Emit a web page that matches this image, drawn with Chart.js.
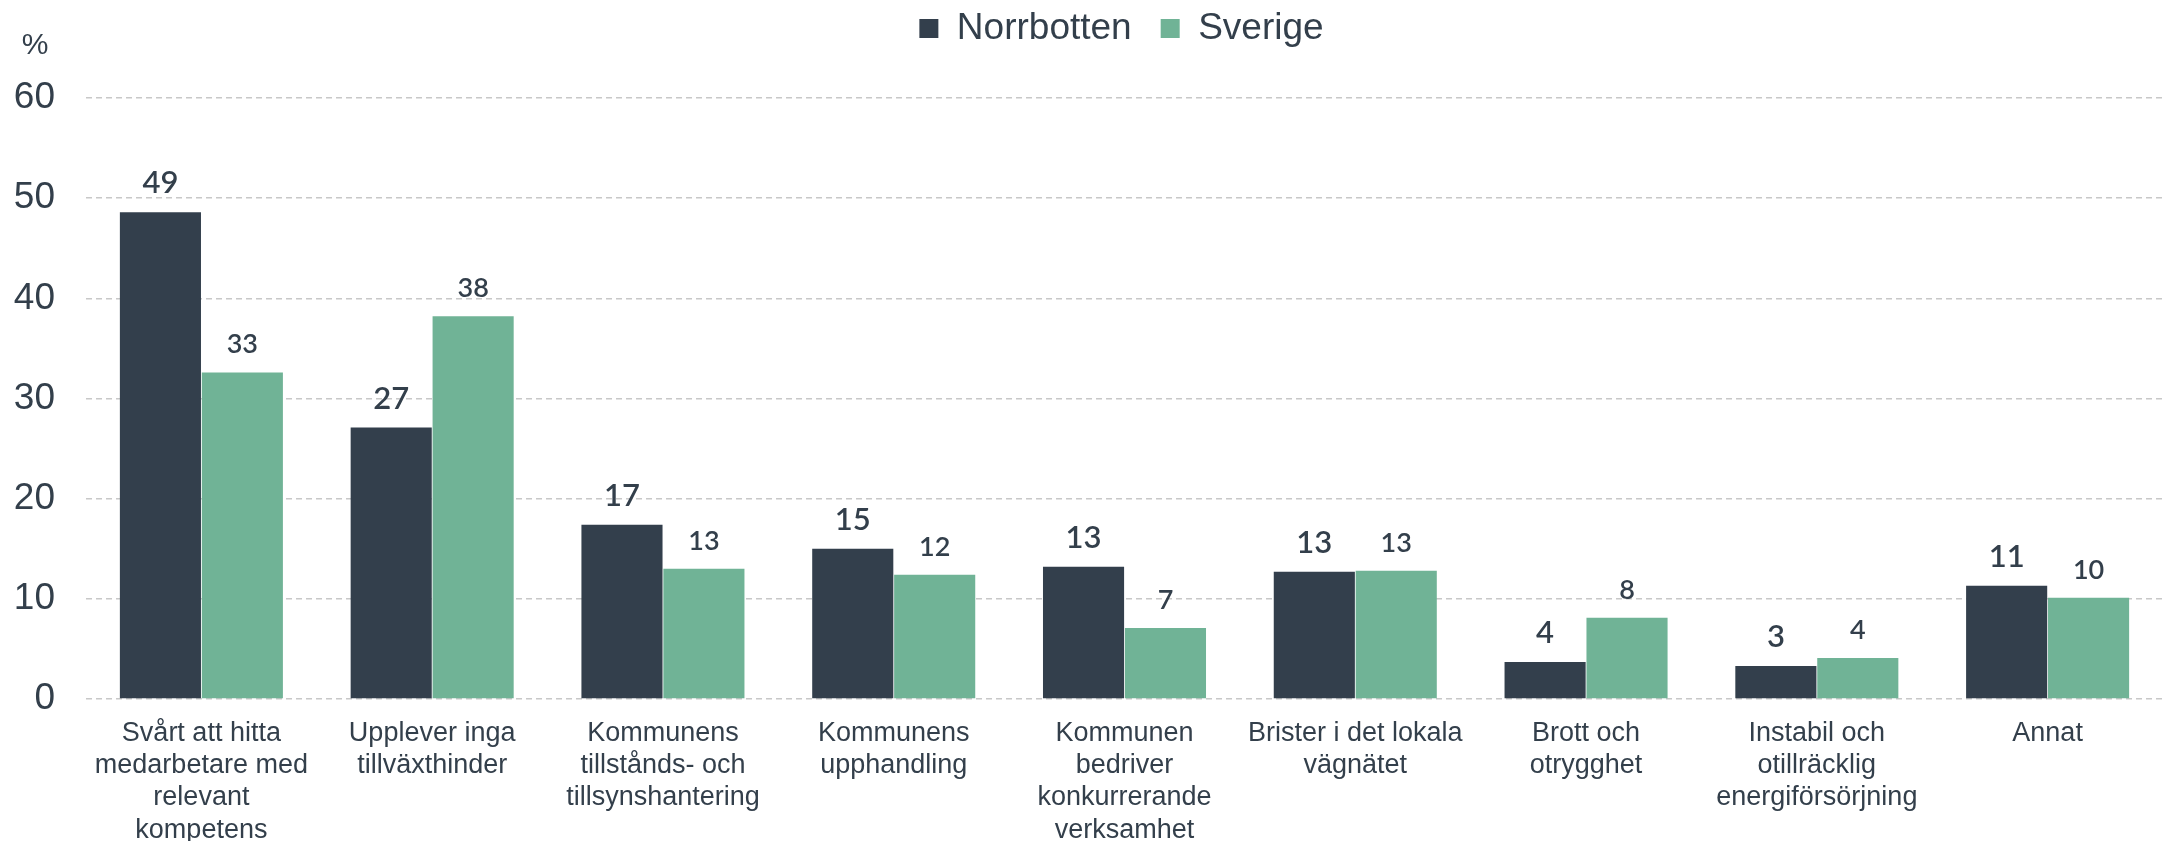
<!DOCTYPE html>
<html lang="sv">
<head>
    <meta charset="UTF-8">
    <title>Tillväxthinder</title>
    <script src="https://cdn.jsdelivr.net/npm/chart.js"></script>
    <style>
        body { margin: 0; background: #fff; }
        #wrap { width: 2167px; height: 841px; position: relative; }
    </style>
</head>
<body>
    <div id="wrap">
        <canvas id="hinderChart"></canvas>
    </div>

    <script>
        // data
        const categories = [
            ['Svårt att hitta', 'medarbetare med', 'relevant', 'kompetens'],
            ['Upplever inga', 'tillväxthinder'],
            ['Kommunens', 'tillstånds- och', 'tillsynshantering'],
            ['Kommunens', 'upphandling'],
            ['Kommunen', 'bedriver', 'konkurrerande', 'verksamhet'],
            ['Brister i det lokala', 'vägnätet'],
            ['Brott och', 'otrygghet'],
            ['Instabil och', 'otillräcklig', 'energiförsörjning'],
            ['Annat']
        ];
        const norrbotten = [48.6, 27.1, 17.4, 15.0, 13.2, 12.7, 3.7, 3.3, 11.3];
        const sverige = [32.6, 38.2, 13.0, 12.4, 7.1, 12.8, 8.1, 4.1, 10.1];
        const yTicks = [0, 10, 20, 30, 40, 50, 60];

        const textColor = '#333f4b';
        const darkColor = '#333f4c';
        const greenColor = '#70b396';

        // value labels above the bars
        const barLabels = {
            id: 'barLabels',
            afterDatasetsDraw(chart) {
                const ctx = chart.ctx;
                ctx.save();
                ctx.fillStyle = textColor;
                ctx.textAlign = 'center';
                ctx.textBaseline = 'alphabetic';
                chart.data.datasets.forEach((ds, i) => {
                    ctx.font = i === 0 ? '600 31px Lato' : '600 27px Lato';
                    chart.getDatasetMeta(i).data.forEach((bar, j) => {
                        ctx.fillText(Math.round(ds.data[j]), bar.x, bar.y - 19);
                    });
                });
                ctx.restore();
            }
        };

        // "%" unit above the y axis, and nudge the legend into place
        const extras = {
            id: 'extras',
            afterLayout(chart) {
                chart.legend.left += 40;
                chart.legend.right += 40;
                chart.legend.top -= 41;
            },
            afterDraw(chart) {
                const ctx = chart.ctx;
                ctx.save();
                ctx.fillStyle = textColor;
                ctx.font = '30px "Liberation Sans", Arial';
                ctx.textAlign = 'center';
                ctx.textBaseline = 'middle';
                ctx.fillText('%', 35, 46);
                ctx.restore();
            }
        };

        const ctx = document.getElementById('hinderChart').getContext('2d');
        new Chart(ctx, {
            type: 'bar',
            data: {
                labels: categories,
                datasets: [{
                    label: 'Norrbotten',
                    data: norrbotten,
                    backgroundColor: darkColor,
                    categoryPercentage: 0.71,
                    barPercentage: 0.99
                }, {
                    label: 'Sverige',
                    data: sverige,
                    backgroundColor: greenColor,
                    categoryPercentage: 0.71,
                    barPercentage: 0.99
                }]
            },
            options: {
                responsive: true,
                maintainAspectRatio: false,
                animation: false,
                layout: { padding: { top: 22, right: 4, left: 0, bottom: 0 } },
                plugins: {
                    legend: {
                        position: 'top',
                        labels: {
                            boxWidth: 19,
                            boxHeight: 19,
                            padding: 29,
                            color: textColor,
                            font: { family: '"Liberation Sans", Arial', size: 37 }
                        }
                    },
                    tooltip: { enabled: false }
                },
                scales: {
                    x: {
                        grid: { display: false },
                        border: { display: false },
                        ticks: {
                            color: textColor,
                            padding: 10,
                            maxRotation: 0,
                            autoSkip: false,
                            font: { family: '"Liberation Sans", Arial', size: 27, lineHeight: 1.2 }
                        },
                        afterFit(scale) { scale.height = 142; }
                    },
                    y: {
                        min: 0,
                        max: 60,
                        afterBuildTicks(scale) {
                            scale.ticks = yTicks.map(v => ({ value: v }));
                        },
                        grid: {
                            color: '#c8c8c8',
                            lineWidth: 1.5,
                            drawTicks: false
                        },
                        border: { display: false, dash: [6, 4] },
                        ticks: {
                            color: textColor,
                            padding: 31,
                            font: { family: '"Liberation Sans", Arial', size: 37 }
                        },
                        afterFit(scale) { scale.width = 86; }
                    }
                }
            },
            plugins: [barLabels, extras]
        });
    </script>
</body>
</html>
